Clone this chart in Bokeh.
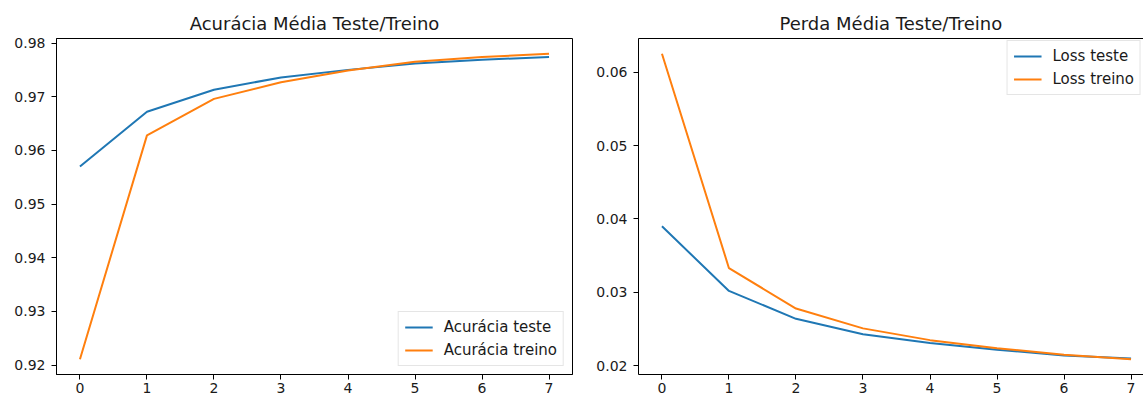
from bokeh.plotting import figure
from bokeh.models import Range1d, FixedTicker, Legend, LegendItem, LinearAxis
from bokeh.layouts import row
from bokeh.embed import file_html
from bokeh.resources import INLINE

# ---- data ----
epochs = [0, 1, 2, 3, 4, 5, 6, 7]
acc_teste = [0.9570, 0.9672, 0.9713, 0.9736, 0.9750, 0.9762, 0.9769, 0.9774]
acc_treino = [0.9211, 0.9628, 0.9696, 0.9727, 0.9749, 0.9765, 0.9774, 0.9780]
loss_teste = [0.0390, 0.0302, 0.0264, 0.0243, 0.0231, 0.0222, 0.0214, 0.0210]
loss_treino = [0.0625, 0.0333, 0.0278, 0.0251, 0.0235, 0.0224, 0.0215, 0.0209]
x_ticks = [0, 1, 2, 3, 4, 5, 6, 7]
acc_ticks = [0.92, 0.93, 0.94, 0.95, 0.96, 0.97, 0.98]
loss_ticks = [0.02, 0.03, 0.04, 0.05, 0.06]
title_acc = "Acurácia Média Teste/Treino"
title_loss = "Perda Média Teste/Treino"
labels_acc = ["Acurácia teste", "Acurácia treino"]
labels_loss = ["Loss teste", "Loss treino"]

FONT = "DejaVu Sans"
BLUE = "#1f77b4"
ORANGE = "#ff7f0e"


def padded(*series):
    vals = [v for s in series for v in s]
    lo, hi = min(vals), max(vals)
    m = 0.05 * (hi - lo)
    return lo - m, hi + m


def style(p, yticks):
    p.title.text_font = FONT
    p.title.text_font_size = "18px"
    p.title.text_font_style = "normal"
    p.title.text_color = "#1a1a1a"
    p.xgrid.visible = False
    p.ygrid.visible = False
    p.xaxis.ticker = FixedTicker(ticks=x_ticks, minor_ticks=[])
    p.yaxis.ticker = FixedTicker(ticks=yticks, minor_ticks=[])
    for ax in (p.xaxis[0], p.yaxis[0]):
        ax.axis_line_color = "black"
        ax.axis_line_width = 1
        ax.major_tick_line_color = "black"
        ax.major_tick_out = 5
        ax.major_tick_in = 0
        ax.minor_tick_line_color = None
        ax.major_label_text_font = FONT
        ax.major_label_text_font_size = "14px"
        ax.major_label_text_color = "#1a1a1a"
    p.xaxis.major_label_standoff = 3
    p.yaxis.major_label_standoff = 6


def make_legend(p, renderers, labels, **kw):
    lg = Legend(items=[LegendItem(label=l, renderers=[r]) for l, r in zip(labels, renderers)], **kw)
    lg.label_text_font = FONT
    lg.label_text_font_size = "15px"
    lg.label_text_color = "#1a1a1a"
    lg.glyph_width = 28
    lg.glyph_height = 18
    lg.label_height = 18
    lg.label_standoff = 11
    lg.spacing = 5
    lg.padding = 6
    lg.border_line_color = "#cccccc"
    lg.border_line_width = 1
    lg.background_fill_alpha = 0.85
    p.add_layout(lg)
    return lg


H = 398
TOP = 38
BOTTOM = 24
PX_PER_UNIT = 516 / 7.7

# ---- left: accuracy ----
y0, y1 = padded(acc_teste, acc_treino)
p1 = figure(width=56 + 516 + 10, height=H, x_range=Range1d(-0.35, 7.35), y_range=Range1d(y0, y1),
            title=title_acc, output_backend="svg", toolbar_location=None,
            min_border_left=56, min_border_right=10, min_border_top=TOP, min_border_bottom=BOTTOM)
p1.title.align = "center"
style(p1, acc_ticks)
p1.outline_line_color = "black"
p1.outline_line_width = 1
p1.outline_line_alpha = 1
r1 = p1.line(epochs, acc_teste, line_color=BLUE, line_width=2)
r2 = p1.line(epochs, acc_treino, line_color=ORANGE, line_width=2)
make_legend(p1, [r1, r2], labels_acc, location="bottom_right", margin=8)

# ---- right: loss ----
FRAME_W2 = 505
z0, z1 = padded(loss_teste, loss_treino)
p2 = figure(width=56 + FRAME_W2, height=H,
            x_range=Range1d(-0.35, -0.35 + FRAME_W2 / PX_PER_UNIT), y_range=Range1d(z0, z1),
            title=title_loss, output_backend="svg", toolbar_location=None,
            min_border_left=56, min_border_right=0, min_border_top=TOP, min_border_bottom=BOTTOM)
p2.title.align = "left"
p2.title.offset = 141
style(p2, loss_ticks)
p2.outline_line_color = None
top_axis = LinearAxis(ticker=FixedTicker(ticks=[], minor_ticks=[]), major_label_text_font_size="0px",
                      major_tick_line_color=None, minor_tick_line_color=None,
                      axis_line_color="black", axis_line_width=1, major_label_standoff=0)
p2.add_layout(top_axis, "above")
r3 = p2.line(epochs, loss_teste, line_color=BLUE, line_width=2)
r4 = p2.line(epochs, loss_treino, line_color=ORANGE, line_width=2)
make_legend(p2, [r3, r4], labels_loss, location="top_right", margin=2)

layout = row(p1, p2)
open("out.html", "w").write(file_html(layout, INLINE))
